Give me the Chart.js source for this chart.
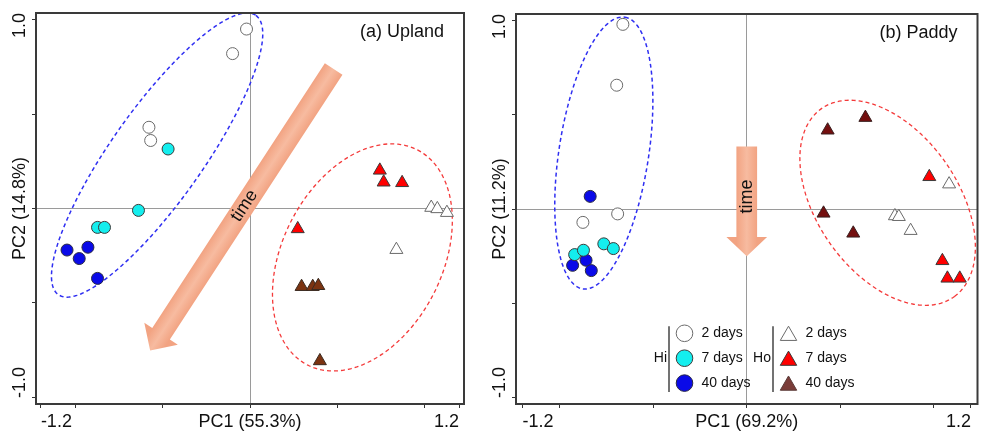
<!DOCTYPE html>
<html>
<head>
<meta charset="utf-8">
<script src="https://cdn.jsdelivr.net/npm/chart.js@4.4.1/dist/chart.umd.min.js"></script>
<style>
html, body { margin: 0; padding: 0; background: #fff; }
#wrap { position: relative; width: 986px; height: 431px; overflow: hidden; }
#upland { position: absolute; left: 0; top: 0; }
#paddy { position: absolute; left: 480px; top: 0; }
</style>
</head>
<body>
<div id="wrap">
  <canvas id="upland" width="480" height="431"></canvas>
  <canvas id="paddy" width="506" height="431"></canvas>
</div>
<script>
// axis ticks (same for both panels)
const xTickValues = [-1.2, -1.0, -0.5, 0, 0.5, 1.0, 1.2];
const xTickLabels = ['-1.2', '', '', '', '', '', '1.2'];
const yTickValues = [-1.0, -0.5, 0, 0.5, 1.0];
const yTickLabels = ['-1.0', '', '', '', '1.0'];

const groups = ['Hi', 'Ho'];
const dayLabels = ['2 days', '7 days', '40 days'];

// (a) Upland, scores as [PC1, PC2]
const uplandHi2 = [[-0.02, 0.95], [-0.10, 0.82], [-0.58, 0.43], [-0.57, 0.36]];
const uplandHi7 = [[-0.47, 0.315], [-0.64, -0.01], [-0.875, -0.10], [-0.835, -0.10]];
const uplandHi40 = [[-1.05, -0.22], [-0.98, -0.265], [-0.93, -0.205], [-0.875, -0.37]];
const uplandHo2 = [[1.04, 0.005], [1.075, -0.002], [1.13, -0.022], [0.84, -0.218]];
const uplandHo7 = [[0.745, 0.202], [0.767, 0.139], [0.873, 0.136], [0.274, -0.108]];
const uplandHo40 = [[0.296, -0.414], [0.36, -0.414], [0.392, -0.409], [0.401, -0.807]];

// (b) Paddy
const paddyHi2 = [[-0.663, 0.98], [-0.696, 0.657], [-0.877, -0.071], [-0.691, -0.026]];
const paddyHi7 = [[-0.921, -0.242], [-0.874, -0.219], [-0.765, -0.185], [-0.714, -0.21]];
const paddyHi40 = [[-0.838, 0.067], [-0.86, -0.272], [-0.932, -0.299], [-0.832, -0.327]];
const paddyHo2 = [[0.793, -0.037], [0.814, -0.041], [0.877, -0.115], [1.083, 0.132]];
const paddyHo7 = [[0.977, 0.171], [1.047, -0.275], [1.074, -0.368], [1.14, -0.368]];
const paddyHo40 = [[0.433, 0.418], [0.635, 0.485], [0.411, -0.023], [0.57, -0.129]];

const fontFamily = '"Liberation Sans", Arial, sans-serif';
Chart.defaults.font.family = fontFamily;
Chart.defaults.color = '#111';

// marker styles
const styleHi2 = {shape: 'circle', radius: 6, fill: '#ffffff', line: '#6a6a6a'};
const styleHi7 = {shape: 'circle', radius: 6, fill: '#14eeee', line: '#3a3a3a'};
const styleHi40 = {shape: 'circle', radius: 6, fill: '#0a0ae8', line: '#2a2a44'};
const styleHo2 = {shape: 'triangle', radius: 7.5, fill: '#ffffff', line: '#6a6a6a'};
const styleHo7 = {shape: 'triangle', radius: 7.5, fill: '#ff0000', line: '#3a3a3a'};
const styleHo40a = {shape: 'triangle', radius: 7.5, fill: '#7b3311', line: '#3a2a20'};
const styleHo40b = {shape: 'triangle', radius: 7.5, fill: '#740f0f', line: '#3a2020'};
const styleHo40legend = {shape: 'triangle', radius: 7.5, fill: '#7a3c38', line: '#5a3a38'};

function makeDataset(label, points, st) {
    return {
        label: label,
        data: points.map(p => ({x: p[0], y: p[1]})),
        pointStyle: st.shape,
        pointRadius: st.radius,
        pointHoverRadius: st.radius,
        backgroundColor: st.fill,
        borderColor: st.line,
        borderWidth: 1,
        showLine: false
    };
}

function drawMarker(ctx, st, x, y, r) {
    ctx.beginPath();
    if (st.shape === 'circle') {
        ctx.arc(x, y, r, 0, Math.PI * 2);
    } else {
        // keep the triangle visually centred on the row
        y += r / 4;
        ctx.moveTo(x, y - r);
        ctx.lineTo(x + r * Math.sqrt(3) / 2, y + r / 2);
        ctx.lineTo(x - r * Math.sqrt(3) / 2, y + r / 2);
        ctx.closePath();
    }
    ctx.fillStyle = st.fill;
    ctx.fill();
    ctx.lineWidth = 1;
    ctx.strokeStyle = st.line;
    ctx.stroke();
}

const decorPlugin = {
    id: 'decor',
    beforeDatasetsDraw(chart, args, opts) {
        const ctx = chart.ctx;
        const xs = chart.scales.x, ys = chart.scales.y;
        const px = (x, y) => [xs.getPixelForValue(x), ys.getPixelForValue(y)];

        // dashed group ellipses
        (opts.ellipses || []).forEach(e => {
            ctx.save();
            ctx.beginPath();
            for (let i = 0; i <= 200; i++) {
                const t = i / 200 * Math.PI * 2;
                const q = px(e.c[0] + e.u[0] * Math.cos(t) + e.v[0] * Math.sin(t),
                             e.c[1] + e.u[1] * Math.cos(t) + e.v[1] * Math.sin(t));
                if (i === 0) ctx.moveTo(q[0], q[1]); else ctx.lineTo(q[0], q[1]);
            }
            ctx.closePath();
            ctx.setLineDash([4, 3]);
            ctx.lineWidth = e.width;
            ctx.strokeStyle = e.color;
            ctx.stroke();
            ctx.restore();
        });

        // "time" arrow
        const a = opts.arrow;
        if (a) {
            const T = px(a.from[0], a.from[1]);
            const P = px(a.to[0], a.to[1]);
            const len = Math.hypot(P[0] - T[0], P[1] - T[1]);
            const d = [(P[0] - T[0]) / len, (P[1] - T[1]) / len];
            const n = [-d[1], d[0]];
            const B = [P[0] - d[0] * a.headLen, P[1] - d[1] * a.headLen];
            const w = a.shaft / 2, h = a.head / 2;
            const g = ctx.createLinearGradient(T[0] + n[0] * w, T[1] + n[1] * w, T[0] - n[0] * w, T[1] - n[1] * w);
            g.addColorStop(0, '#f2a382');
            g.addColorStop(0.5, '#f7bba0');
            g.addColorStop(1, '#f2a382');
            ctx.save();
            ctx.beginPath();
            ctx.moveTo(T[0] + n[0] * w, T[1] + n[1] * w);
            ctx.lineTo(B[0] + n[0] * w, B[1] + n[1] * w);
            ctx.lineTo(B[0] + n[0] * h, B[1] + n[1] * h);
            ctx.lineTo(P[0], P[1]);
            ctx.lineTo(B[0] - n[0] * h, B[1] - n[1] * h);
            ctx.lineTo(B[0] - n[0] * w, B[1] - n[1] * w);
            ctx.lineTo(T[0] - n[0] * w, T[1] - n[1] * w);
            ctx.closePath();
            ctx.fillStyle = g;
            ctx.fill();

            const cx = T[0] + (P[0] - T[0]) * a.textAt;
            const cy = T[1] + (P[1] - T[1]) * a.textAt;
            ctx.translate(cx, cy);
            ctx.rotate(Math.atan2(T[1] - P[1], T[0] - P[0]));
            ctx.font = '18px ' + fontFamily;
            ctx.fillStyle = '#111';
            ctx.textAlign = 'center';
            ctx.textBaseline = 'middle';
            ctx.fillText('time', 0, 0);
            ctx.restore();
        }
    },
    afterDraw(chart, args, opts) {
        const ctx = chart.ctx;
        const area = chart.chartArea;
        const ys = chart.scales.y;

        ctx.save();
        // plot frame
        ctx.lineWidth = 2;
        ctx.strokeStyle = '#3a3a3a';
        ctx.strokeRect(area.left, area.top, area.right - area.left, area.bottom - area.top);

        // rotated y tick labels, kept inside the axis span
        ctx.font = '18px ' + fontFamily;
        ctx.fillStyle = '#111';
        ctx.textAlign = 'center';
        ctx.textBaseline = 'middle';
        yTickValues.forEach((v, i) => {
            const txt = yTickLabels[i];
            if (!txt) return;
            const w = ctx.measureText(txt).width;
            let cy = ys.getPixelForValue(v);
            cy = Math.max(cy, area.top + w / 2);
            cy = Math.min(cy, area.bottom - 6 - w / 2);
            ctx.save();
            ctx.translate(ys.left + 20.5, cy);
            ctx.rotate(-Math.PI / 2);
            ctx.fillText(txt, 0, 0);
            ctx.restore();
        });

        // panel title
        ctx.textAlign = 'right';
        ctx.fillText(opts.title, area.right - 20, area.top + 19);

        // grouped legend
        const L = opts.legend;
        if (L) {
            ctx.font = '14px ' + fontFamily;
            groups.forEach((g, gi) => {
                const lx = L.x + gi * L.groupGap;
                ctx.fillStyle = '#111';
                ctx.textAlign = 'right';
                ctx.fillText(g, lx - 2, L.y + L.rowGap);
                ctx.beginPath();
                ctx.moveTo(lx, L.y - 7);
                ctx.lineTo(lx, L.y + 2 * L.rowGap + 9);
                ctx.lineWidth = 1.5;
                ctx.strokeStyle = '#444';
                ctx.stroke();
                dayLabels.forEach((d, di) => {
                    const st = L.styles[gi * 3 + di];
                    const y = L.y + di * L.rowGap;
                    drawMarker(ctx, st, lx + 15.5, y, st.shape === 'circle' ? 8.3 : 9.5);
                    ctx.fillStyle = '#111';
                    ctx.textAlign = 'left';
                    ctx.fillText(d, lx + 32.5, y);
                });
            });
        }
        ctx.restore();
    }
};

function makeChart(canvasId, series, cfg) {
    return new Chart(document.getElementById(canvasId), {
        type: 'scatter',
        data: {
            datasets: series.map(s => makeDataset(s[0], s[1], s[2]))
        },
        plugins: [decorPlugin],
        options: {
            responsive: false,
            animation: false,
            devicePixelRatio: 1,
            layout: {padding: {top: cfg.padTop, right: cfg.padRight, left: 0, bottom: 0}},
            plugins: {
                legend: {display: false},
                tooltip: {enabled: false},
                decor: {
                    title: cfg.title,
                    ellipses: cfg.ellipses,
                    arrow: cfg.arrow,
                    legend: cfg.legend
                }
            },
            scales: {
                x: {
                    type: 'linear',
                    min: -cfg.xMax,
                    max: cfg.xMax,
                    afterBuildTicks: s => { s.ticks = xTickValues.map(v => ({value: v})); },
                    afterFit: s => { s.height = 27; },
                    border: {display: false},
                    grid: {
                        color: c => (c.tick && c.tick.value === 0) ? '#9a9a9a' : 'rgba(0,0,0,0)',
                        lineWidth: 1,
                        tickColor: '#333',
                        tickLength: 4,
                        tickWidth: 1
                    },
                    ticks: {
                        autoSkip: false,
                        maxRotation: 0,
                        align: 'inner',
                        padding: 3,
                        color: '#111',
                        font: {size: 18},
                        callback: (v, i) => xTickLabels[i]
                    },
                    title: {
                        display: true,
                        text: cfg.xTitle,
                        color: '#111',
                        font: {size: 18},
                        padding: {top: 0, bottom: -2}
                    }
                },
                y: {
                    type: 'linear',
                    min: -1.035,
                    max: 1.035,
                    afterBuildTicks: s => { s.ticks = yTickValues.map(v => ({value: v})); },
                    afterFit: s => { s.width = 36; },
                    border: {display: false},
                    grid: {
                        color: c => (c.tick && c.tick.value === 0) ? '#9a9a9a' : 'rgba(0,0,0,0)',
                        lineWidth: 1,
                        tickColor: '#333',
                        tickLength: 4,
                        tickWidth: 1
                    },
                    ticks: {display: false},
                    title: {
                        display: true,
                        text: cfg.yTitle,
                        color: '#111',
                        font: {size: 18},
                        padding: {top: 9, bottom: 0}
                    }
                }
            }
        }
    });
}

makeChart('upland', [
    ['Hi 2 days', uplandHi2, styleHi2],
    ['Hi 7 days', uplandHi7, styleHi7],
    ['Hi 40 days', uplandHi40, styleHi40],
    ['Ho 2 days', uplandHo2, styleHo2],
    ['Ho 7 days', uplandHo7, styleHo7],
    ['Ho 40 days', uplandHo40, styleHo40a]
], {
    title: '(a) Upland',
    xTitle: 'PC1 (55.3%)',
    yTitle: 'PC2 (14.8%)',
    xMax: 1.228,
    padTop: 13,
    padRight: 16,
    ellipses: [
        {c: [-0.533, 0.283], u: [0.567, 0.739], v: [0.2145, -0.141], color: '#2f2ff2', width: 1.5},
        {c: [0.645, -0.259], u: [0.316, 0.569], v: [0.408, -0.194], color: '#f43a3a', width: 1.3}
    ],
    arrow: {from: [0.48, 0.739], to: [-0.573, -0.752], shaft: 21, head: 40, headLen: 20, textAt: 0.486}
});

makeChart('paddy', [
    ['Hi 2 days', paddyHi2, styleHi2],
    ['Hi 7 days', paddyHi7, styleHi7],
    ['Hi 40 days', paddyHi40, styleHi40],
    ['Ho 2 days', paddyHo2, styleHo2],
    ['Ho 7 days', paddyHo7, styleHo7],
    ['Ho 40 days', paddyHo40, styleHo40b]
], {
    title: '(b) Paddy',
    xTitle: 'PC1 (69.2%)',
    yTitle: 'PC2 (11.2%)',
    xMax: 1.235,
    padTop: 14,
    padRight: 1,
    ellipses: [
        {c: [-0.765, 0.297], u: [0.113, 0.721], v: [0.237, -0.0376], color: '#2f2ff2', width: 1.5},
        {c: [0.754, 0.033], u: [0.358, -0.497], v: [0.304, 0.222], color: '#f43a3a', width: 1.3}
    ],
    arrow: {from: [0, 0.332], to: [0, -0.251], shaft: 20.7, head: 40.7, headLen: 19.4, textAt: 0.455},
    legend: {
        x: 189, y: 333.3, rowGap: 24.9, groupGap: 104,
        styles: [styleHi2, styleHi7, styleHi40, styleHo2, styleHo7, styleHo40legend]
    }
});
</script>
</body>
</html>
